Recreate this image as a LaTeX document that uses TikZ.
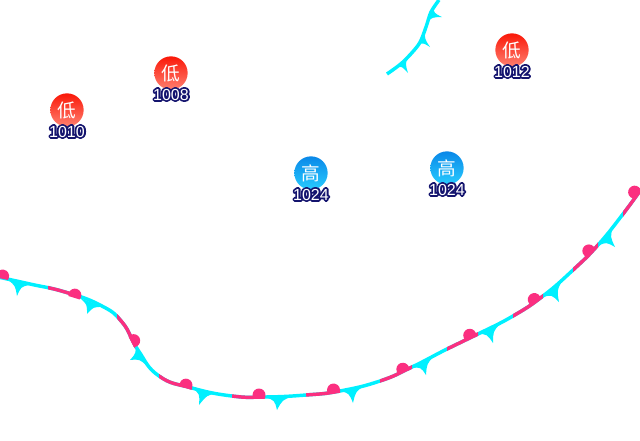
\documentclass[tikz,border=0pt]{standalone}
\usepackage{fontspec}
\setmainfont{Liberation Sans}
\newfontfamily\cjkfont{Noto Sans CJK SC}
\usetikzlibrary{calc}
\definecolor{warmpink}{HTML}{FB2F80}
\definecolor{coldcyan}{HTML}{00F0FF}
\definecolor{lowtop}{HTML}{FA1808}
\definecolor{lowbottom}{HTML}{FF8070}
\definecolor{hightop}{HTML}{0A88E8}
\definecolor{highbottom}{HTML}{28CCFF}
\tikzset{
  lowcentre/.style={circle, inner sep=0pt, minimum size=25pt, top color=lowtop, bottom color=lowbottom, text=white, font=\cjkfont\fontsize{14}{14}\selectfont},
  highcentre/.style={circle, inner sep=0pt, minimum size=25pt, top color=hightop, bottom color=highbottom, text=white, font=\cjkfont\fontsize{14}{14}\selectfont},
  pressure/.style={inner sep=0pt, text=white, font=\fontsize{12}{12}\selectfont},
  frontline/.style={line width=2.6pt}
}
\newcommand{\haloed}[1]{\special{pdf:code q 2 Tr 2.8 w 1 j 0.08 0.08 0.43 RG 0.08 0.08 0.43 rg}\rlap{#1}\special{pdf:code Q}#1}
\newcommand{\coldbarb}[3]{\coordinate (m) at ($(#1)!0.5!(#2)$);
  \fill[coldcyan] (#1) .. controls ($($(#1)!0.5!(#3)$)!0.45!(m)$) .. (#3) .. controls ($($(#2)!0.5!(#3)$)!0.45!(m)$) .. (#2) -- cycle;}
\newcommand{\warmbump}[2]{\fill[warmpink] ($(#1)+(#2-90:3)+(#2+25:6.5)$) arc[start angle=#2+25, delta angle=-230, radius=6.5] -- cycle;}
\newcommand{\lowerfront}{plot[smooth, tension=0.8] coordinates {(-2,277) (30,284) (65,292) (100,305) (122,322) (138,350) (159,376) (192,388) (232,396) (265,397) (306,395) (340,391) (380,381) (412,367) (447,349) (478,334) (513,316) (543,296) (573,270) (598,245) (623,214) (642,188)}}
\begin{document}
\begin{tikzpicture}[x=0.75pt, y=-0.75pt]
\useasboundingbox (0,0) rectangle (640,440);
% pressure centres
\node[lowcentre] (low1) at (67,110) {低};
\node[lowcentre] (low2) at (171,73) {低};
\node[lowcentre] (low3) at (512,50) {低};
\node[highcentre] (high1) at (311,173) {高};
\node[highcentre] (high2) at (447,168) {高};
\node[pressure] (p1) at (67,131.5) {\haloed{1010}};
\node[pressure] (p2) at (171,94.5) {\haloed{1008}};
\node[pressure] (p3) at (512,71.5) {\haloed{1012}};
\node[pressure] (p4) at (311,194.5) {\haloed{1024}};
\node[pressure] (p5) at (447,189.5) {\haloed{1024}};
% upper front
\draw[frontline, coldcyan] plot[smooth] coordinates {(387,74) (403,62) (419,44) (426,27) (431,12) (439,0)};
\coldbarb{396,67}{408,57}{408,73}
\coldbarb{418,45}{425,32}{430,47}
\coldbarb{427,22}{433,7}{442,17}
% lower front
\draw[frontline, coldcyan] \lowerfront;
\foreach \xa/\xb in {48/80, 117/135, 159/192, 232/265, 306/340, 380/412, 447/478, 513/543, 573/598, 623/640}
{
  \begin{scope}
  \clip (\xa,0) rectangle (\xb,440);
  \draw[frontline, warmpink] \lowerfront;
  \end{scope}
}
\coldbarb{8,280}{29,285}{17,296}
\coldbarb{80,298}{103,307}{87,314}
\coldbarb{135,343}{147,366}{130,360}
\coldbarb{192,388}{218,393}{199,405}
\coldbarb{265,397}{293,396}{277,410}
\coldbarb{340,391}{364,386}{353,403}
\coldbarb{412,368}{434,356}{426,375}
\coldbarb{478,334}{500,324}{493,343}
\coldbarb{543,297}{562,281}{559,302}
\coldbarb{598,246}{613,227}{615,247}
\warmbump{2,279}{12}
\warmbump{74,298}{17}
\warmbump{131,342}{63}
\warmbump{185,388}{18}
\warmbump{259,398}{0}
\warmbump{334,393}{-9}
\warmbump{404,372}{-23}
\warmbump{471,338}{-25}
\warmbump{536,302}{-35}
\warmbump{591,253}{-46}
\warmbump{637,194}{-52}
\end{tikzpicture}
\end{document}
